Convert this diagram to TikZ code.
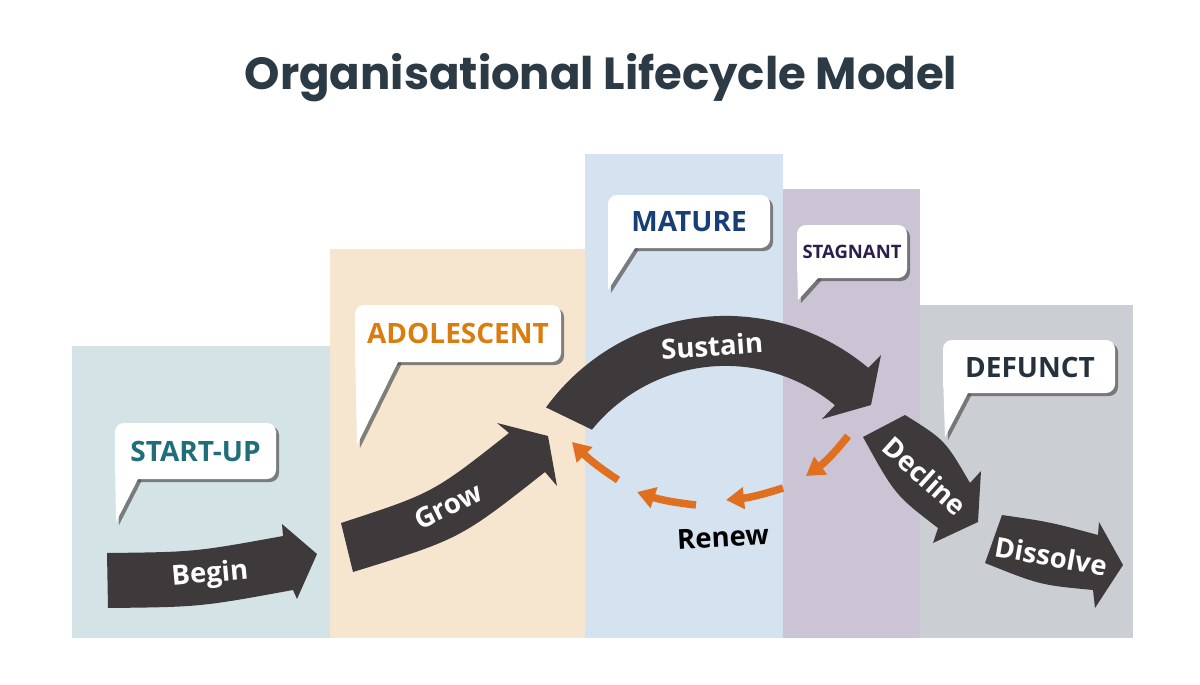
\documentclass[tikz,border=0pt]{standalone}
\usepackage{fontspec}
\setmainfont{Open Sans}
\newfontfamily\titlefont{Poppins}
\usetikzlibrary{arrows.meta}
\definecolor{bgstart}{HTML}{D3E3E6}
\definecolor{bgadol}{HTML}{F7E6CF}
\definecolor{bgmat}{HTML}{D5E2F0}
\definecolor{bgstag}{HTML}{CBC4D5}
\definecolor{bgdef}{HTML}{CBCFD3}
\definecolor{arrowc}{HTML}{3E3A3B}
\definecolor{orangec}{HTML}{E07020}
\definecolor{cstart}{HTML}{1F6E78}
\definecolor{cadol}{HTML}{D97D10}
\definecolor{cmat}{HTML}{173F75}
\definecolor{cstag}{HTML}{2B1D4D}
\definecolor{cdef}{HTML}{25323E}
\definecolor{ctitle}{HTML}{2B3A45}
\definecolor{shadowc}{HTML}{5A5A5A}
% callout: x1 y1 x2 y2 tailx tipx tipy
\newcommand{\mycallout}[7]{%
  \fill[shadowc,opacity=0.75,shift={(3,3)},rounded corners=9pt] (#1,#2) rectangle (#3,#4);
  \fill[shadowc,opacity=0.75,shift={(3,3)}] (#1,#4-20) -- (#6,#7) -- (#5,#4) -- (#5,#4-20) -- cycle;
  \fill[white,rounded corners=9pt] (#1,#2) rectangle (#3,#4);
  \fill[white] (#1,#4-20) -- (#6,#7) -- (#5,#4) -- (#5,#4-20) -- cycle;
}
\tikzset{
  lbl/.style={font=\bfseries\fontsize{28}{30}\selectfont, inner sep=0pt},
  arrowlbl/.style={font=\bfseries\fontsize{27.5}{29}\selectfont, text=white, inner sep=0pt},
  renewarrow/.style={draw=orangec, line width=7.5pt, -{Triangle[length=18pt,width=21pt]}},
}
\begin{document}
\begin{tikzpicture}[x=1pt,y=-1pt]
\useasboundingbox (0,0) rectangle (1200,685);
\fill[white] (0,0) rectangle (1200,685);
% title
\node[font=\titlefont\bfseries\fontsize{45}{48}\selectfont, text=ctitle, anchor=base] (title) at (601,89) {Organisational Lifecycle Model};
% backgrounds
\fill[bgstart] (72,346) rectangle (330,638);
\fill[bgadol] (330,249) rectangle (585,638);
\fill[bgmat] (585,154) rectangle (783,638);
\fill[bgstag] (783,189) rectangle (920,638);
\fill[bgdef] (920,305) rectangle (1133,638);
% callouts
\mycallout{115}{423}{276}{479}{138}{116}{522}
\node[lbl, text=cstart] (startup) at (195.5,451) {START-UP};
\mycallout{355}{305}{561}{362}{398}{357}{445}
\node[lbl, text=cadol] (adol) at (458,333.5) {ADOLESCENT};
\mycallout{608}{195}{770}{248}{635}{608}{290}
\node[lbl, text=cmat] (mature) at (689,221.5) {MATURE};
\mycallout{797}{225}{907}{278}{818}{798}{300}
\node[font=\bfseries\fontsize{18.5}{20}\selectfont, inner sep=0pt, text=cstag] (stag) at (852,252) {STAGNANT};
\mycallout{943}{340}{1115}{393}{968}{945}{437}
\node[lbl, text=cdef] (defunct) at (1030,367) {DEFUNCT};
% Begin arrow
\fill[arrowc] (107,553) .. controls (195,552) .. (283,536) -- (282,524) -- (317,554) -- (297,599) -- (293,590) .. controls (200,607) .. (108,608) -- cycle;
\node[arrowlbl, rotate=5] (begin) at (210,575) {Begin};
% Grow arrow
\fill[arrowc] (341,523) .. controls (433,493) .. (509,433) -- (497,423) -- (548,436) -- (557,486) -- (545,472) .. controls (460,539) .. (353,572) -- cycle;
\node[arrowlbl, rotate=26] (grow) at (448,506) {Grow};
% Sustain arrow (arc band)
\fill[arrowc] plot[domain=144:50, samples=60] ({725.6+222*cos(\x)},{537.9-222*sin(\x)}) -- (881,355) -- (871,405) -- (822,419) -- plot[domain=50.5:141, samples=60] ({725.6+172*cos(\x)},{537.9-172*sin(\x)}) -- cycle;
\node[arrowlbl, rotate=4] (sustain) at (712,346) {Sustain};
% Decline arrow
\fill[arrowc] (863,437) -- (905,415) .. controls (945,440) .. (970,483) -- (981,471) -- (978,522) -- (933,543) -- (938,528) .. controls (895,495) .. (863,437) -- cycle;
\node[arrowlbl, rotate=-42] (decline) at (925,476) {Decline};
% Dissolve arrow
\fill[arrowc] (1002,515) .. controls (1050,522) .. (1098,535) -- (1099,522) -- (1123,565) -- (1095,608) -- (1093,590) .. controls (1040,585) .. (985,563) -- cycle;
\node[arrowlbl, rotate=-10] (dissolve) at (1051,556) {Dissolve};
% Renew arrows
\coordinate (r1a) at (848,436); \coordinate (r1b) at (806,476);
\coordinate (r2a) at (783,488); \coordinate (r2b) at (726,500);
\coordinate (r3a) at (696,505); \coordinate (r3b) at (637,492);
\coordinate (r4a) at (618,480); \coordinate (r4b) at (572,442);
\draw[renewarrow] (r1a) to[bend left=8] (r1b);
\draw[renewarrow] (r2a) to[bend left=6] (r2b);
\draw[renewarrow] (r3a) to[bend left=6] (r3b);
\draw[renewarrow] (r4a) to[bend left=6] (r4b);
\node[font=\bfseries\fontsize{27.5}{29}\selectfont, inner sep=0pt, text=black, rotate=3] (renew) at (723,537) {Renew};
\end{tikzpicture}
\end{document}
